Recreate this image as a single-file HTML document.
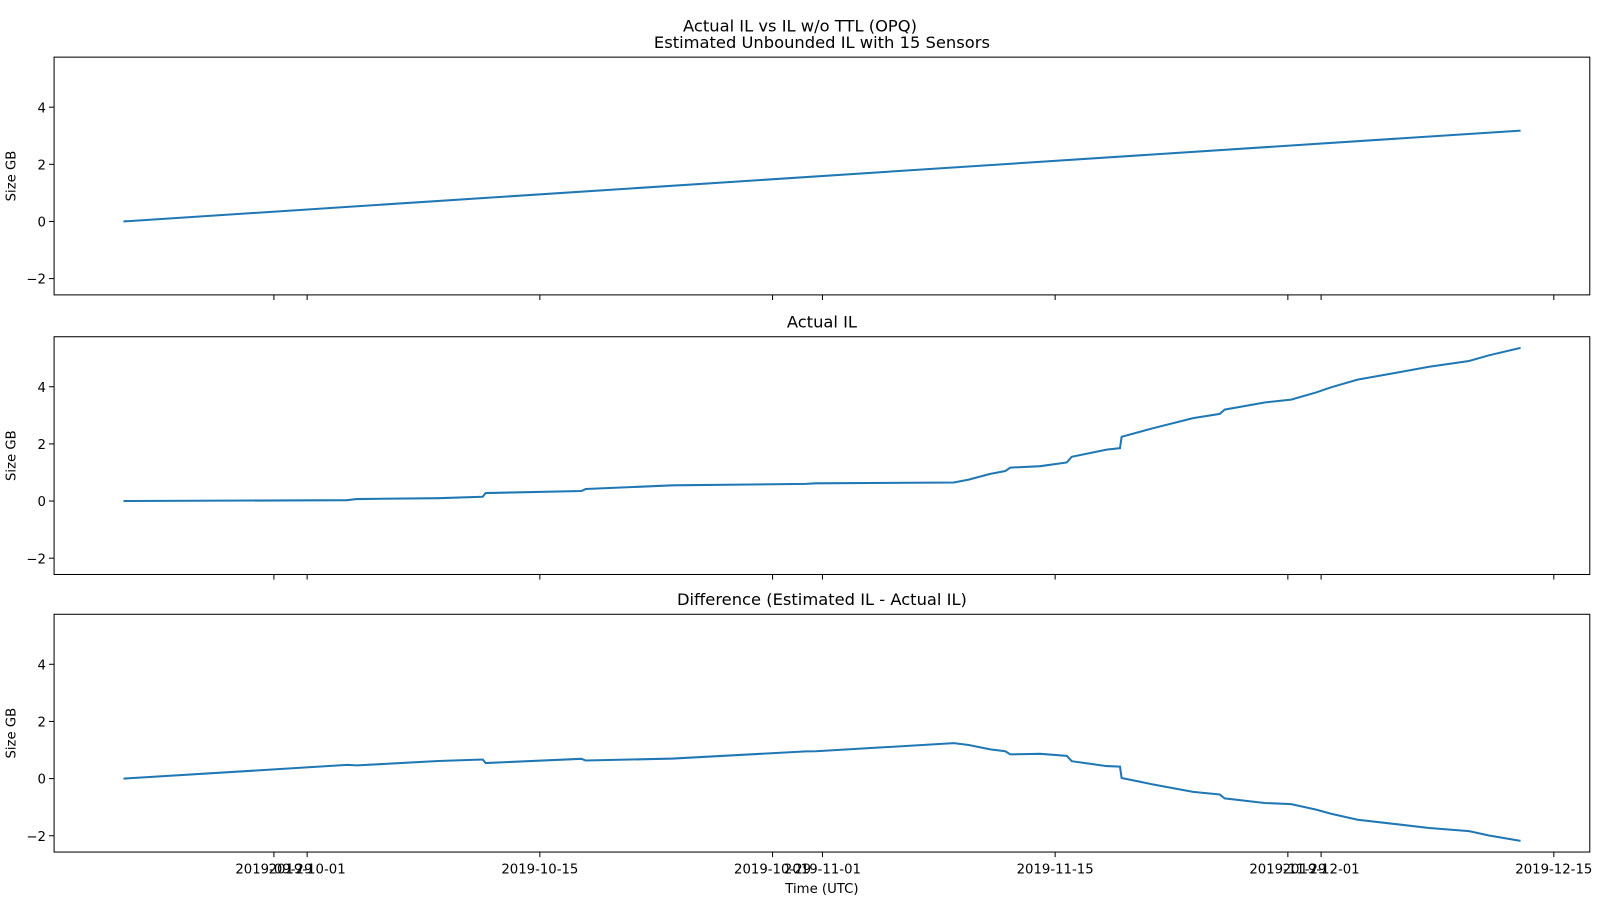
<!DOCTYPE html>
<html><head><meta charset="utf-8"><style>
html,body{margin:0;padding:0;background:#fff;overflow:hidden;width:1600px;height:900px}
svg{display:block}
svg text{font-family:"DejaVu Sans","Liberation Sans",sans-serif;fill:#000}
</style></head><body>
<svg width="1600" height="900" xmlns="http://www.w3.org/2000/svg">
<g id="chart" transform="scale(1.0204)">
<text x="784" y="31" font-size="16" text-anchor="middle">Actual IL vs IL w/o TTL (OPQ)</text>
</g>
</svg>
<script>
// days since 2019-10-01
const estDays=[-11.05,73.0];
const estVals=[0,3.18];
const actDays=[-11.05,2.4,3.0,7.9,10.56,10.74,16.5,16.76,22.0,30.0,30.6,38.9,39.8,41.1,42.0,42.3,44.1,45.7,46.0,48.1,48.9,49.0,50.9,53.3,54.9,55.2,57.6,59.2,60.7,61.6,63.2,65.6,67.5,69.9,71.1,73.0];
const actVals=[0,0.03,0.07,0.1,0.15,0.28,0.35,0.42,0.55,0.6,0.62,0.65,0.75,0.95,1.05,1.17,1.22,1.35,1.55,1.8,1.85,2.25,2.55,2.9,3.05,3.2,3.45,3.55,3.8,3.98,4.25,4.5,4.7,4.9,5.1,5.36];
const xTickDays=[-2,0,14,28,31,45,59,61,75];
const xTickLabels=["2019-09-29","2019-10-01","2019-10-15","2019-10-29","2019-11-01","2019-11-15","2019-11-29","2019-12-01","2019-12-15"];
const yTicks=[-2,0,2,4];
const titles=["Estimated Unbounded IL with 15 Sensors","Actual IL","Difference (Estimated IL - Actual IL)"];
const NS="http://www.w3.org/2000/svg";
const svg=document.getElementById('chart');
const L=53,R=1558,tops=[56,330,602],H=233,ymin=-2.57,ymax=5.75;
const xs=d=>301+(d-0)*16.29;
function mk(t,a){const e=document.createElementNS(NS,t);for(const k in a)e.setAttribute(k,a[k]);svg.appendChild(e);return e;}
function interp(d){const t=(d-estDays[0])/(estDays[1]-estDays[0]);return estVals[0]+t*(estVals[1]-estVals[0]);}
const diffVals=actDays.map((d,i)=>interp(d)-actVals[i]);
const series=[[estDays,estVals],[actDays,actVals],[actDays,diffVals]];
tops.forEach((top,p)=>{
  const ys=v=>top+(ymax-v)/(ymax-ymin)*H;
  const t=mk('text',{x:(L+R)/2,y:top-9,'font-size':16,'text-anchor':'middle'});t.textContent=titles[p];
  
  
  const [dd,vv]=series[p];
  const pl=mk('polyline',{points:dd.map((d,i)=>xs(d)+','+ys(vv[i])).join(' '),fill:'none',stroke:'#1f77b4','stroke-width':2});
  
  
  const fr=mk('rect',{x:L,y:top,width:R-L,height:H,fill:'none',stroke:'#000','stroke-width':1});
  
  
  yTicks.forEach(v=>{
    mk('line',{x1:L-5,x2:L,y1:ys(v),y2:ys(v),stroke:'#000'});
    const tx=mk('text',{x:L-8,y:ys(v)+5,'font-size':13,'text-anchor':'end'});tx.textContent=v<0?'\u2212'+(-v):v;
    
    
  });
  const yl=mk('text',{x:15,y:top+H/2,'font-size':13,'text-anchor':'middle',transform:`rotate(-90 15 ${top+H/2})`});yl.textContent='Size GB';
  
  
  xTickDays.forEach((d,i)=>{
    mk('line',{x1:xs(d),x2:xs(d),y1:top+H,y2:top+H+5,stroke:'#000'});
    if(p===2){const tx=mk('text',{x:xs(d),y:top+H+21,'font-size':13,'text-anchor':'middle'});tx.textContent=xTickLabels[i];
      
      }
  });
});
const xl=mk('text',{x:(L+R)/2,y:875,'font-size':13,'text-anchor':'middle'});xl.textContent='Time (UTC)';


</script>
</body></html>
